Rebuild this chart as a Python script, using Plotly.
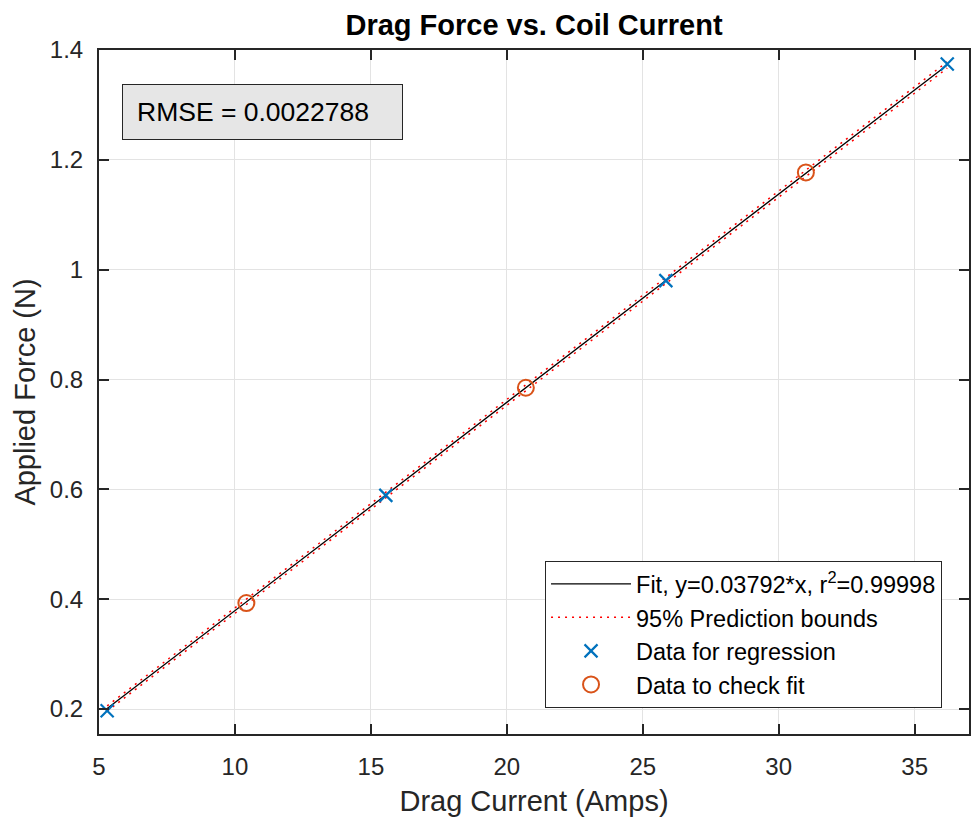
import plotly.graph_objects as go

# Data
reg_x = [5.3, 15.55, 25.85, 36.2]
reg_y = [0.197, 0.589, 0.980, 1.3745]
chk_x = [10.42, 20.7, 31.0]
chk_y = [0.393, 0.785, 1.177]

fit_x = [5.3, 36.2]
fit_y = [0.201, 1.3727]
bound_x = [5.3, 36.2]
upper_y = [0.2058, 1.3785]
lower_y = [0.1962, 1.3669]

fit_label = "Fit, y=0.03792*x, r<sup>2</sup>=0.99998"
rmse_text = "RMSE = 0.0022788"

x_ticks = [5, 10, 15, 20, 25, 30, 35]
y_ticks = [0.2, 0.4, 0.6, 0.8, 1.0, 1.2, 1.4]
y_ticktext = ["0.2", "0.4", "0.6", "0.8", "1", "1.2", "1.4"]

FONT = "Liberation Sans, Arial, sans-serif"
AX = "#262626"

fig = go.Figure()
fig.add_trace(go.Scatter(x=fit_x, y=fit_y, mode="lines", name=fit_label,
                         line=dict(color="black", width=1.3)))
fig.add_trace(go.Scatter(x=bound_x, y=upper_y, mode="lines", name="95% Prediction bounds",
                         line=dict(color="#FF0000", width=1.5, dash="2px,5px")))
fig.add_trace(go.Scatter(x=bound_x, y=lower_y, mode="lines", showlegend=False,
                         line=dict(color="#FF0000", width=1.5, dash="2px,5px")))
fig.add_trace(go.Scatter(x=reg_x, y=reg_y, mode="markers", name="Data for regression",
                         marker=dict(symbol="x-thin-open", size=13, color="#0072BD",
                                     line=dict(color="#0072BD", width=2.2))))
fig.add_trace(go.Scatter(x=chk_x, y=chk_y, mode="markers", name="Data to check fit",
                         marker=dict(symbol="circle-open", size=16, color="#D95319",
                                     line=dict(color="#D95319", width=2))))

axis_common = dict(showline=True, linecolor=AX, linewidth=2, mirror="ticks",
                   ticks="inside", ticklen=10, tickwidth=2, tickcolor=AX,
                   showgrid=True, gridcolor="#e3e3e3", gridwidth=1, zeroline=False,
                   automargin=False,
                   tickfont=dict(family=FONT, size=24, color=AX))

fig.update_xaxes(range=[5, 37], tickvals=x_ticks,
                 title=dict(text="Drag Current (Amps)", font=dict(family=FONT, size=29, color=AX),
                            standoff=12),
                 ticklabelstandoff=10,
                 **axis_common)
fig.update_yaxes(range=[0.1545, 1.4], tickvals=y_ticks, ticktext=y_ticktext,
                 title=dict(text="Applied Force (N)", font=dict(family=FONT, size=29, color=AX),
                            standoff=6),
                 ticklabelstandoff=9,
                 **axis_common)

fig.add_annotation(xref="paper", yref="paper", x=0.0264, y=0.950,
                   xanchor="left", yanchor="top", text=rmse_text, showarrow=False,
                   align="left", width=251, height=26, borderpad=14,
                   bgcolor="#e6e6e6", bordercolor=AX, borderwidth=1,
                   font=dict(family=FONT, size=26.5, color="black"))

fig.update_layout(
    width=972, height=825,
    margin=dict(l=99, r=3, t=50, b=91, autoexpand=False),
    paper_bgcolor="white", plot_bgcolor="white",
    title=dict(text="<b>Drag Force vs. Coil Current</b>", xref="paper", x=0.5, xanchor="center",
               y=0.970, yanchor="middle", automargin=False,
               font=dict(family=FONT, size=29, color="black")),
    legend=dict(x=0.969, y=0.038, xanchor="right", yanchor="bottom",
                bgcolor="white", bordercolor=AX, borderwidth=1,
                font=dict(family=FONT, size=23.5, color="black"),
                itemwidth=80, tracegroupgap=0),
    showlegend=True,
)

fig.write_html("out.html", config={"displayModeBar": False},
               post_script="document.body.style.margin='0';document.body.style.overflow='hidden';")
